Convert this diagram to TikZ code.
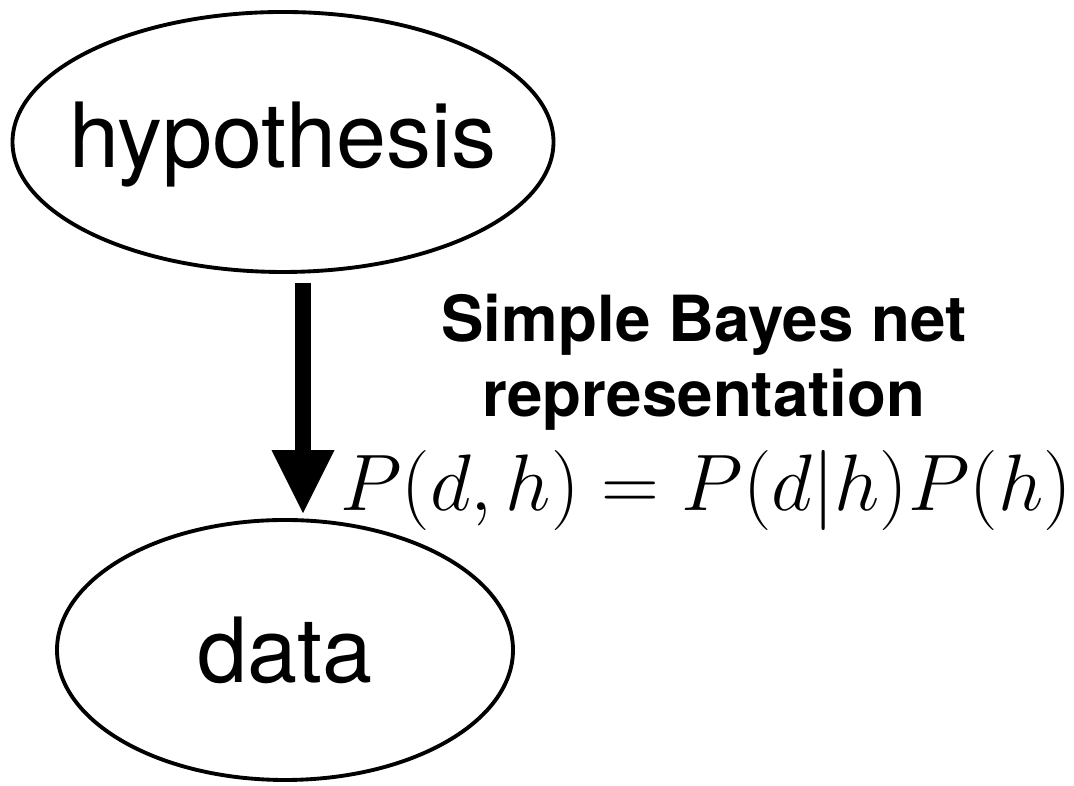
\RequirePackage{fix-cm}
\documentclass[tikz,border=0pt]{standalone}
\usepackage{fontspec}
\newfontfamily\helv{TeX Gyre Heros}
\usetikzlibrary{arrows.meta,shapes.geometric}
\tikzset{
  bubble/.style={draw, ellipse, line width=1.1pt, minimum height=2.6cm, inner sep=0pt},
  nodetext/.style={font=\helv\fontsize{25.6}{30}\selectfont, inner sep=0pt},
  causal/.style={-{Triangle[length=6.3mm, width=6.3mm, line width=0pt]}, line width=4.3pt},
  notetext/.style={font=\helv\bfseries\fontsize{18.1}{21.3}\selectfont, align=center, inner sep=0pt},
}

\begin{document}
\begin{tikzpicture}
    \useasboundingbox (0,0) rectangle (10.74,7.86);
    % the two variables
    \node[bubble, minimum width=5.41cm] (hyp) at (2.83,6.44) {};
    \node[nodetext] (hyplabel) at ([yshift=-0.03cm]hyp) {hypothesis};
    \node[bubble, minimum width=4.56cm] (data) at (2.85,1.36) {};
    \node[nodetext] (datalabel) at (data) {data};
    \draw[causal, shorten <=0.09cm, shorten >=0.05cm]
      ([xshift=2mm]hyp.south) -- ([xshift=2mm]hyp.south |- data.north);
    \node[notetext] (note) at (7.04,4.24) {Simple Bayes net\\representation};
    \node[font=\fontsize{22.8}{27}\selectfont, anchor=base, inner sep=0pt] (joint)
      at (7.06,2.75) {$P(d,h) = P(d|h)P(h)$};
  \end{tikzpicture}
\end{document}
